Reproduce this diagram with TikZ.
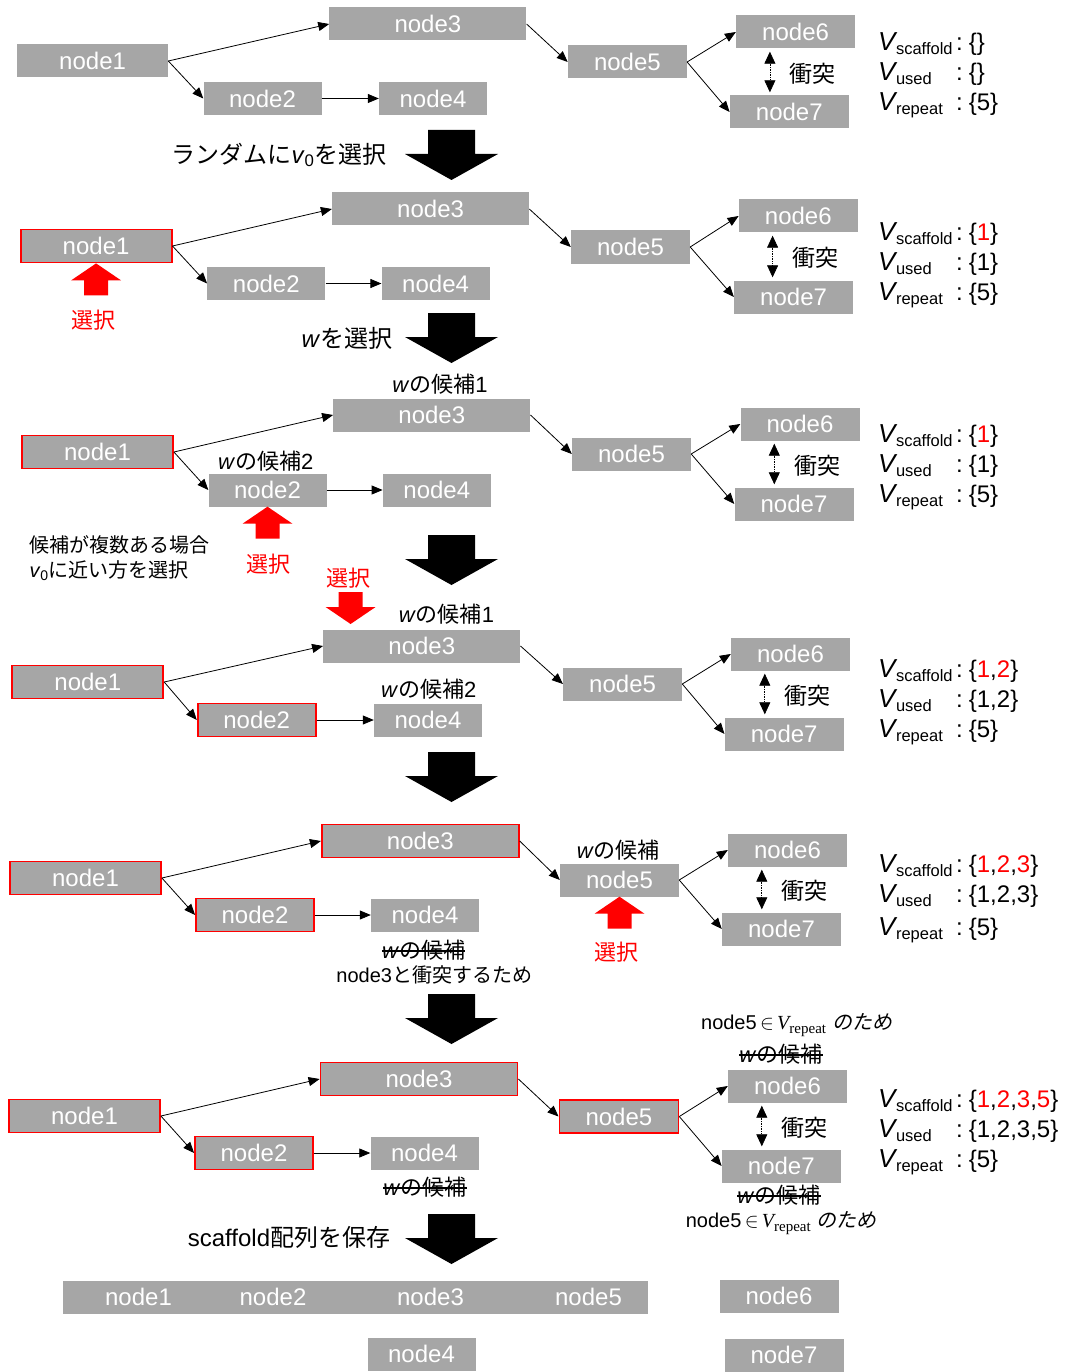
\documentclass[tikz,border=0pt]{standalone}
\usepackage{fontspec}
\setmainfont{Liberation Sans}
\newfontfamily\jp{Noto Sans CJK JP}
\newfontfamily\jpit{Noto Sans CJK JP}[FakeSlant=0.2]
\newfontfamily\serifit{Liberation Serif}
\usetikzlibrary{arrows.meta,calc}
\definecolor{ng}{HTML}{A6A6A6}
\definecolor{rd}{HTML}{FF0000}
\newcommand\myfs[1]{\fontsize{#1}{#1}\selectfont}
\newcommand\J[1]{{\jp #1}}
\newcommand\rdg[1]{\textcolor{rd}{#1}}
\newcommand\wc{\textit{w}\J{の候補}}
\newcommand\Vs[1]{{\myfs{26}\textit{V}}\kern-1.5pt\raisebox{-4pt}{\myfs{16.5}#1}}
\newcommand\inrep{node5\,$\in$\,{\serifit\itshape V}\raisebox{-4pt}{\myfs{15}\serifit repeat}\hspace{6pt}{\jpit のため}}
\newcommand\graphedges[1]{%
  \draw[ed] (#11.east) -- (#13.west);
  \draw[ed] (#11.east) -- (#12.west);
  \draw[ed] (#12.east) -- (#14.west);
  \draw[ed] (#13.east) -- (#15.west);
  \draw[ed] (#15.east) -- (#16.west);
  \draw[ed] (#15.east) -- (#17.west);
  \coordinate (#1ct) at ($(#16.south west)+(34,3)$);
  \coordinate (#1cb) at ($(#1ct |- #17.north)+(0,-3)$);
  \draw[conf] (#1ct) -- (#1cb);
  \node[font=\myfs{23},inner sep=0pt] (#1cf) at ($(#1ct)!0.5!(#1cb)+(43,1.5)$) {\J{衝突}};
}
\newcommand\vset[6]{%
  \node[vl] (#1vs) at (878,#2) {\Vs{scaffold}};
  \node[vl] (#1vu) at (878,{#2+30}) {\Vs{used}};
  \node[vl] (#1vr) at (878,{#2+#6}) {\Vs{repeat}};
  \node[vl] (#1cs) at (956,#2) {\myfs{24}:\hspace{6pt}\{#3\}};
  \node[vl] (#1cu) at (956,{#2+30}) {\myfs{24}:\hspace{6pt}\{#4\}};
  \node[vl] (#1cr) at (956,{#2+#6}) {\myfs{24}:\hspace{6pt}\{#5\}};
}
\newcommand\bigdown[1]{\fill[black] (428,#1) -- (475,#1) -- (475,{#1+24}) -- (498,{#1+24}) -- (451.5,{#1+50}) -- (405,{#1+24}) -- (428,{#1+24}) -- cycle;}
\newcommand\redup[1]{\fill[rd,shift={(#1)}] (0,0) -- (25,17) -- (12,17) -- (12,32) -- (-12,32) -- (-12,17) -- (-25,17) -- cycle;}
\newcommand\reddown[1]{\fill[rd,shift={(#1)}] (0,0) -- (25,-17) -- (12,-17) -- (12,-32) -- (-12,-32) -- (-12,-17) -- (-25,-17) -- cycle;}
\newcommand\strike[1]{\draw[line width=1.4pt] ([yshift=-1pt]#1.west) -- ([yshift=-1pt]#1.east);}
\begin{document}
\begin{tikzpicture}[x=1pt,y=-1pt,
  nd/.style={fill=ng,text=white,font=\myfs{24},inner sep=0pt,minimum height=33pt},
  w1/.style={minimum width=151pt}, w2/.style={minimum width=118pt},
  w3/.style={minimum width=197pt}, w4/.style={minimum width=108pt},
  w5/.style={minimum width=119pt}, w6/.style={minimum width=119pt},
  w7/.style={minimum width=119pt},
  sel/.style={draw=rd,line width=1.8pt},
  ed/.style={-{Triangle[length=11pt,width=9pt]},line width=0.8pt},
  conf/.style={densely dotted,line width=0.7pt,{Triangle[length=12pt,width=11pt]}-{Triangle[length=12pt,width=11pt]}},
  lab/.style={inner sep=0pt,font=\myfs{22}},
  redlab/.style={inner sep=0pt,font=\myfs{22},text=rd},
  steptxt/.style={inner sep=0pt,font=\myfs{24}},
  note/.style={inner sep=0pt,font=\myfs{20}},
  vl/.style={anchor=base west,inner sep=0pt}]
\fill[white] (0,0) rectangle (1073,1372);
\useasboundingbox (0,0) rectangle (1073,1372);

% ---------- stage 1
\node[nd,w1] (a1) at (92.6,61) {node1};
\node[nd,w3] (a3) at (427.9,24) {node3};
\node[nd,w2] (a2) at (262.5,98.5) {node2};
\node[nd,w4] (a4) at (433,98.5) {node4};
\node[nd,w5] (a5) at (627.4,62) {node5};
\node[nd,w6] (a6) at (795.6,32) {node6};
\node[nd,w7] (a7) at (789.3,112) {node7};
\graphedges{a}
\vset{a}{51}{}{}{5}{60}
\bigdown{130}
\node[steptxt] (at) at (279,155) {\J{ランダムに}\textit{v}\textsubscript{0}\J{を選択}};

% ---------- stage 2
\node[nd,w1,sel] (b1) at (96.1,246) {node1};
\node[nd,w3] (b3) at (430.6,209) {node3};
\node[nd,w2] (b2) at (266.3,283.5) {node2};
\node[nd,w4] (b4) at (435.6,283.5) {node4};
\node[nd,w5] (b5) at (630.5,247) {node5};
\node[nd,w6] (b6) at (798.3,216) {node6};
\node[nd,w7] (b7) at (793.6,297) {node7};
\graphedges{b}
\redup{b1.south}
\node[redlab] (bs) at (93.5,320) {\J{選択}};
\vset{b}{240.5}{\rdg{1}}{1}{5}{60}
\bigdown{313}
\node[steptxt] (bt) at (347,338) {\textit{w}\J{を選択}};

% ---------- stage 3
\node[lab] (cw1) at (440,384) {\wc 1};
\node[nd,w1,sel] (c1) at (97.5,452) {node1};
\node[nd,w3] (c3) at (431.8,415) {node3};
\node[nd,w2] (c2) at (267.5,490) {node2};
\node[nd,w4] (c4) at (436.8,490) {node4};
\node[nd,w5] (c5) at (631.5,454) {node5};
\node[nd,w6] (c6) at (800,424) {node6};
\node[nd,w7] (c7) at (794,504) {node7};
\graphedges{c}
\node[lab] (cw2) at (265.8,461) {\wc 2};
\redup{c2.south}
\node[redlab] (cs) at (268,564) {\J{選択}};
\node[note,anchor=west] (cn1) at (29.3,544.5) {\J{候補が複数ある場合}};
\node[note,anchor=west] (cn2) at (29.3,571) {\textit{v}\textsubscript{0}\J{に近い方を選択}};
\vset{c}{442.5}{\rdg{1}}{1}{5}{60}
\bigdown{535}

% ---------- stage 4
\node[redlab] (ds) at (348.8,578) {\J{選択}};
\reddown{350.6,624}
\node[lab] (dw1) at (446.5,614) {\wc 1};
\node[nd,w1,sel] (d1) at (87.8,682) {node1};
\node[nd,w3] (d3) at (421.8,646) {node3};
\node[nd,w2,sel] (d2) at (256.7,720) {node2};
\node[nd,w4] (d4) at (428,720) {node4};
\node[nd,w5] (d5) at (622.6,684) {node5};
\node[nd,w6] (d6) at (790.5,654) {node6};
\node[nd,w7] (d7) at (784.2,734) {node7};
\graphedges{d}
\node[lab] (dw2) at (428.7,689) {\wc 2};
\vset{d}{677.5}{\rdg{1},\rdg{2}}{1,2}{5}{60}
\bigdown{752}

% ---------- stage 5
\node[nd,w1,sel] (e1) at (85.5,878) {node1};
\node[nd,w3,sel] (e3) at (420.3,841) {node3};
\node[nd,w2,sel] (e2) at (255,915) {node2};
\node[nd,w4] (e4) at (425,915) {node4};
\node[nd,w5] (e5) at (619.5,880) {node5};
\node[nd,w6] (e6) at (787.5,850) {node6};
\node[nd,w7] (e7) at (781.5,929) {node7};
\graphedges{e}
\node[lab] (ew) at (618.3,850) {\wc};
\redup{e5.south}
\node[redlab] (es) at (616,952) {\J{選択}};
\node[lab] (ex) at (423.7,950) {\wc};
\strike{ex}
\node[note] (en) at (434.2,975) {node3\J{と衝突するため}};
\vset{e}{872}{\rdg{1},\rdg{2},\rdg{3}}{1,2,3}{5}{63}
\bigdown{994}

% ---------- stage 6
\node[note] (fn1) at (796.6,1025) {\inrep};
\node[lab] (fx1) at (780.8,1054) {\wc};
\strike{fx1}
\node[nd,w1,sel] (f1) at (84.5,1116) {node1};
\node[nd,w3,sel] (f3) at (419,1079) {node3};
\node[nd,w2,sel] (f2) at (254,1153) {node2};
\node[nd,w4] (f4) at (424.5,1153) {node4};
\node[nd,w5,sel] (f5) at (618.9,1116.5) {node5};
\node[nd,w6] (f6) at (787.5,1086) {node6};
\node[nd,w7] (f7) at (781.3,1166) {node7};
\graphedges{f}
\node[lab] (fx2) at (425,1187) {\wc};
\strike{fx2}
\node[lab] (fx3) at (779,1195) {\wc};
\strike{fx3}
\node[note] (fn2) at (781.3,1223) {\inrep};
\vset{f}{1107.5}{\rdg{1},\rdg{2},\rdg{3},\rdg{5}}{1,2,3,5}{5}{60}
\bigdown{1214}
\node[steptxt] (ft) at (289,1237) {scaffold\J{配列を保存}};

% ---------- final
\node[nd,w1] (g1) at (138.5,1297) {node1};
\node[nd,w2] (g2) at (273,1297) {node2};
\node[nd,w3] (g3) at (430.5,1297) {node3};
\node[nd,w5] (g5) at (588.5,1297) {node5};
\node[nd,w6] (g6) at (779,1296) {node6};
\node[nd,w4] (g4) at (421.5,1354) {node4};
\node[nd,w7] (g7) at (784,1355) {node7};
\end{tikzpicture}
\end{document}
